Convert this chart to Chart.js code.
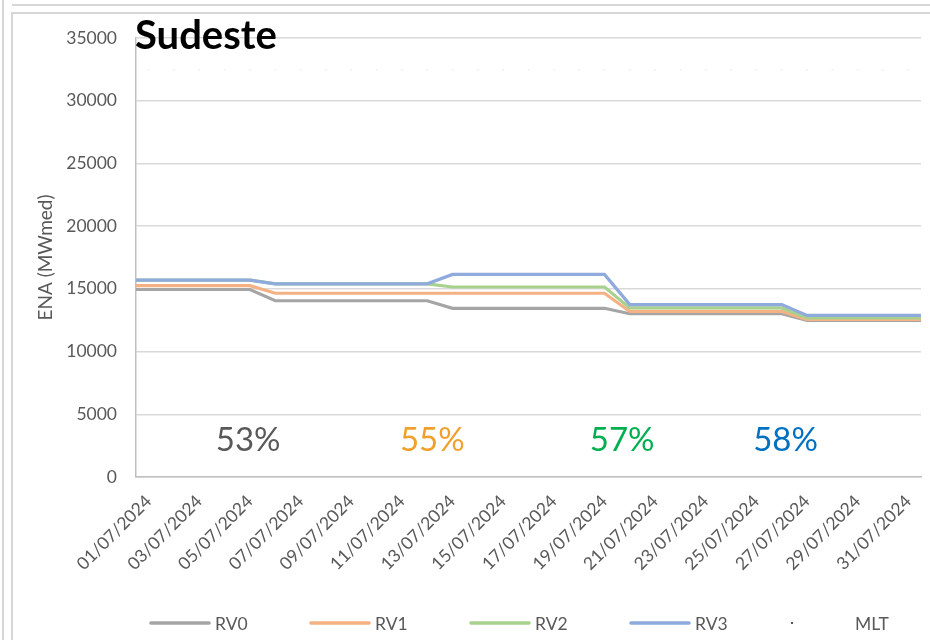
<!DOCTYPE html>
<html><head><meta charset="utf-8">
<script src="https://cdn.jsdelivr.net/npm/chart.js@4.4.1/dist/chart.umd.min.js"></script>
<style>
html,body{margin:0;padding:0;background:#fff;}
#wrap{position:relative;width:930px;height:640px;overflow:hidden;background:#fff;}
.ln{position:absolute;background:#d6d6d6;}
canvas{position:absolute;left:0;top:0;}
</style></head><body>
<div id="wrap">
<div class="ln" style="left:12px;top:4px;width:918px;height:2px;"></div>
<div class="ln" style="left:2px;top:0;width:2px;height:640px;"></div>
<div class="ln" style="left:11px;top:12px;width:2px;height:628px;"></div>
<div class="ln" style="left:11px;top:12px;width:919px;height:2px;"></div>
<canvas id="c" width="930" height="640"></canvas>
</div>
<script>
const titleText = 'Sudeste';
const days = ['01/07/2024','02/07/2024','03/07/2024','04/07/2024','05/07/2024','06/07/2024','07/07/2024','08/07/2024','09/07/2024','10/07/2024','11/07/2024','12/07/2024','13/07/2024','14/07/2024','15/07/2024','16/07/2024','17/07/2024','18/07/2024','19/07/2024','20/07/2024','21/07/2024','22/07/2024','23/07/2024','24/07/2024','25/07/2024','26/07/2024','27/07/2024','28/07/2024','29/07/2024','30/07/2024','31/07/2024'];
const rv0 = [14950,14950,14950,14950,14950,14050,14050,14050,14050,14050,14050,14050,13450,13450,13450,13450,13450,13450,13450,13020,13020,13020,13020,13020,13020,13020,12480,12480,12480,12480,12480];
const rv1 = [15250,15250,15250,15250,15250,14650,14650,14650,14650,14650,14650,14650,14650,14650,14650,14650,14650,14650,14650,13200,13200,13200,13200,13200,13200,13200,12560,12560,12560,12560,12560];
const rv2 = [15700,15700,15700,15700,15700,15400,15400,15400,15400,15400,15400,15400,15150,15150,15150,15150,15150,15150,15150,13480,13480,13480,13480,13480,13480,13480,12690,12690,12690,12690,12690];
const rv3 = [15700,15700,15700,15700,15700,15400,15400,15400,15400,15400,15400,15400,16150,16150,16150,16150,16150,16150,16150,13750,13750,13750,13750,13750,13750,13750,12880,12880,12880,12880,12880];
const mlt = [32450,32450,32450,32450,32450,32450,32450,32450,32450,32450,32450,32450,32450,32450,32450,32450,32450,32450,32450,32450,32450,32450,32450,32450,32450,32450,32450,32450,32450,32450,32450];
const seriesNames = ['RV0','RV1','RV2','RV3','MLT'];
const seriesColors = ['#A5A5A5','#F4B183','#A9D18E','#8FAADC','#efefef'];
const pctLabels = ['53%','55%','57%','58%'];
const pctColors = ['#595959','#F0A02C','#00B050','#0070C0'];
const pctDay = [3.93, 11.2, 18.7, 25.15];
const pctLevel = 2950;
const yMax = 35000, yStep = 5000;

function linePts(arr){
  const p = arr.map((v,i)=>({x:i,y:v}));
  return [{x:-0.5,y:arr[0]}].concat(p,[{x:arr.length-0.5,y:arr[arr.length-1]}]);
}
const F = 'Lato, "Noto Sans", sans-serif';
const datasets = [rv0,rv1,rv2,rv3].map((arr,i)=>({
  label: seriesNames[i], data: linePts(arr), borderColor: seriesColors[i], backgroundColor: seriesColors[i],
  borderWidth: 3.2, pointRadius: 0, tension: 0, fill: false, order: 4 - i
}));
datasets.push({label: seriesNames[4], data: mlt.map((v,i)=>({x:i,y:v})), showLine:false, pointRadius:1,
  pointBackgroundColor: seriesColors[4], pointBorderWidth:0, borderColor: seriesColors[4], order: 0});

const deco = {
  id:'deco',
  afterDraw(chart){
    const {ctx, scales:{x,y}} = chart;
    ctx.save();
    ctx.font = 'bold 40px ' + F; ctx.fillStyle = '#000'; ctx.textAlign = 'left'; ctx.textBaseline = 'alphabetic';
    ctx.fillText(titleText, 135, 49);
    ctx.font = '33px ' + F; ctx.textAlign = 'center'; ctx.textBaseline = 'middle';
    pctLabels.forEach((t,i)=>{ ctx.fillStyle = pctColors[i]; ctx.fillText(t, x.getPixelForValue(pctDay[i]), y.getPixelForValue(pctLevel)); });
    // legend
    const ly = 623;
    seriesNames.forEach((n,i)=>{
      const x0 = 151 + 160*i;
      if (i < 4) {
        ctx.strokeStyle = seriesColors[i]; ctx.lineWidth = 3.6; ctx.lineCap = 'round';
        ctx.beginPath(); ctx.moveTo(x0, ly); ctx.lineTo(x0+58, ly); ctx.stroke();
      } else {
        ctx.fillStyle = '#222'; ctx.beginPath(); ctx.arc(x0+1, ly, 1, 0, Math.PI*2); ctx.fill();
      }
      ctx.fillStyle = '#595959'; ctx.font = '17.5px ' + F; ctx.textAlign = 'left'; ctx.textBaseline = 'middle';
      ctx.fillText(n, x0 + 64, ly + 1);
    });
    ctx.restore();
  }
};

new Chart(document.getElementById('c'), {
  type: 'line',
  data: { datasets },
  plugins: [deco],
  options: {
    responsive: false, devicePixelRatio: 1, animation: false,
    layout: { padding: { top: 38, right: 9, left: 0, bottom: 0 } },
    plugins: { legend: { display: false }, tooltip: { enabled: false }, title: { display: false } },
    scales: {
      x: {
        type: 'linear', min: -0.5, max: days.length - 0.5,
        afterFit: s => { s.height = 163; },
        afterBuildTicks: s => { s.ticks = days.map((d,i)=>({value:i})).filter(t => t.value % 2 === 0); },
        grid: { display: false },
        border: { display: true, color: '#bfbfbf', width: 1.5 },
        ticks: { autoSkip: false, minRotation: 45, maxRotation: 45, padding: 6, color: '#595959',
          font: { family: F, size: 17.5 }, callback: v => days[v] }
      },
      y: {
        min: 0, max: yMax,
        afterFit: s => { s.width = 136; },
        grid: { color: '#d9d9d9', lineWidth: 1.5, drawTicks: false },
        border: { display: true, color: '#bfbfbf', width: 1.5 },
        ticks: { stepSize: yStep, padding: 19, color: '#595959', font: { family: F, size: 17.5 }, callback: v => String(v) },
        title: { display: true, text: 'ENA (MWmed)', color: '#595959', font: { family: F, size: 19 }, padding: { top: 34, bottom: 0 } }
      }
    }
  }
});
</script>
</body></html>
